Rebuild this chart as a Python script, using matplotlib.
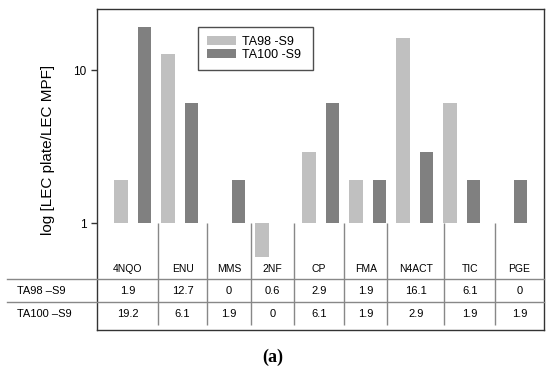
import numpy as np
import matplotlib
matplotlib.use("Agg")
import matplotlib.pyplot as plt
from matplotlib.transforms import blended_transform_factory
from matplotlib.lines import Line2D
from matplotlib.ticker import FixedLocator, NullLocator

plt.rcParams['font.family'] = ['Liberation Sans', 'DejaVu Sans']

categories = ["4NQO", "ENU", "MMS", "2NF", "CP", "FMA", "N4ACT", "TIC", "PGE"]
ta98 = [1.9, 12.7, 0, 0.6, 2.9, 1.9, 16.1, 6.1, 0]
ta100 = [19.2, 6.1, 1.9, 0, 6.1, 1.9, 2.9, 1.9, 1.9]
row_labels = ["TA98 \u2013S9", "TA100 \u2013S9"]
legend_labels = ["TA98 -S9", "TA100 -S9"]
value_text = [["1.9", "12.7", "0", "0.6", "2.9", "1.9", "16.1", "6.1", "0"],
              ["19.2", "6.1", "1.9", "0", "6.1", "1.9", "2.9", "1.9", "1.9"]]

light = "#c0c0c0"
dark = "#808080"
W, H = 550, 371

fig = plt.figure(figsize=(W / 100, H / 100), dpi=100)
ax = fig.add_axes([97 / W, 1 - 330 / H, 447 / W, 321 / H])

x = np.arange(len(categories))
v98 = np.array(ta98, dtype=float)
v100 = np.array(ta100, dtype=float)
bw = 0.29
b1 = ax.bar(x - 0.25, np.where(v98 > 0, v98 - 1, 0), bw, bottom=1, color=light, label=legend_labels[0])
b2 = ax.bar(x + 0.25, np.where(v100 > 0, v100 - 1, 0), bw, bottom=1, color=dark, label=legend_labels[1])

ax.set_yscale("log")
xlim = (-0.76, 8.75)
ax.set_xlim(*xlim)
ax.set_ylim(0.2, 25.05)
ax.yaxis.set_major_locator(FixedLocator([1, 10]))
ax.yaxis.set_minor_locator(NullLocator())
ax.set_yticklabels(["1", "10"])
ax.tick_params(axis="y", direction="out", length=4.5, width=1, pad=3, labelsize=8.5, color="#333333")
ax.tick_params(axis="x", bottom=False, labelbottom=False)
for s in ax.spines.values():
    s.set_color("#333333")
    s.set_linewidth(1.0)

ax.set_ylabel("log [LEC plate/LEC MPF]", fontsize=11)
ax.yaxis.set_label_coords(55 / W, 0.56, transform=blended_transform_factory(fig.transFigure, ax.transAxes))

# table below the bars
col_edges = [0.537, 1.586, 2.509, 3.431, 4.495, 5.416, 6.63, 7.707]
edges = [xlim[0]] + col_edges + [xlim[1]]
centers = [(a + b) / 2 for a, b in zip(edges[:-1], edges[1:])]
ax.vlines(col_edges, 0.2155, 1.0, color="#888888", lw=1.0)

tr_d = blended_transform_factory(ax.transData, ax.transAxes)
tr_f = blended_transform_factory(fig.transFigure, ax.transAxes)
for c, name in zip(centers, categories):
    ax.text(c, 0.190, name, transform=tr_d, ha="center", va="center", fontsize=7.5)
for yf, row in zip([0.1215, 0.0498], value_text):
    for c, t in zip(centers, row):
        ax.text(c, yf, t, transform=tr_d, ha="center", va="center", fontsize=8)
for yf, lab in zip([0.1215, 0.0498], row_labels):
    ax.text(17 / W, yf, lab, transform=tr_f, ha="left", va="center", fontsize=8)
for yf in [0.1604, 0.0872]:
    fig.add_artist(Line2D([7 / W, 544 / W], [yf, yf], transform=tr_f, color="#888888", lw=1.0))

leg = ax.legend(handles=[b1, b2], loc="upper left", bbox_to_anchor=(198 / W, 1 - 72 / H, 115 / W, 45 / H),
                bbox_transform=fig.transFigure, mode="expand", fontsize=9, frameon=True, fancybox=False,
                handlelength=2.3, handleheight=0.72, handletextpad=0.5, labelspacing=0.12, borderpad=0.7,
                borderaxespad=0)
leg.get_frame().set_edgecolor("#222222")
leg.get_frame().set_linewidth(1.0)

fig.text(273 / W, 1 - 357 / H, "(a)", ha="center", va="center", fontsize=13, fontweight="bold",
         family=["Liberation Serif", "DejaVu Serif"])

fig.savefig("out.png", dpi=100)
